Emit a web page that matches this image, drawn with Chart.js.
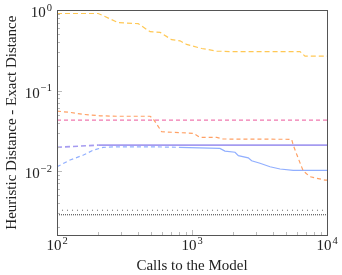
<!DOCTYPE html>
<html>
<head>
<meta charset="utf-8">
<script src="https://cdn.jsdelivr.net/npm/chart.js@4"></script>
<style>
  html, body { margin: 0; padding: 0; background: #fff; }
  #wrap { width: 342px; height: 275px; }
</style>
</head>
<body>
<div id="wrap"><canvas id="chart" width="342" height="275"></canvas></div>
<script>
const goldCalls = [100, 202, 284, 400, 489, 580, 707, 815, 912, 1180, 1524, 1910, 6310, 6870, 10000];
const goldDist = [0.91, 0.91, 0.70, 0.68, 0.54, 0.53, 0.43, 0.416, 0.375, 0.334, 0.31, 0.306, 0.306, 0.268, 0.268];

const pinkCalls = [100, 10000];
const pinkDist = [0.043, 0.043];

const orangeCalls = [100, 125, 157, 208, 277, 489, 517, 596, 1024, 1146, 1524, 1707, 5470, 5620, 6120, 6670, 7480, 9660, 10000];
const orangeDist = [0.0556, 0.0536, 0.0506, 0.0486, 0.048, 0.048, 0.0443, 0.0308, 0.0294, 0.0262, 0.0262, 0.025, 0.0248, 0.021, 0.0144, 0.010, 0.0085, 0.0077, 0.0077];

const purpleCalls = [100, 202, 10000];
const purpleDist = [0.0197, 0.021, 0.021];

const blueCalls = [100, 125, 157, 186, 220, 277, 500, 800, 1610, 1755, 2083, 2205, 2610, 2765, 3190, 3785, 4490, 5620, 10000];
const blueDist = [0.0113, 0.0137, 0.0158, 0.0182, 0.0197, 0.020, 0.020, 0.0197, 0.0191, 0.0177, 0.0171, 0.0155, 0.0146, 0.0134, 0.0125, 0.0113, 0.0106, 0.0102, 0.0102];

const dotCalls = [100, 10000];
const dotDist = [0.00325, 0.00325];
const fineCalls = [100, 10000];
const fineDist = [0.00286, 0.00286];

// tick values: 1..9 x 10^n, labels only on powers of ten
const xTicks = [];
for (let e = 2; e < 4; e++) for (let m = 1; m < 10; m++) xTicks.push(m * Math.pow(10, e));
xTicks.push(10000);
const yTicks = [];
for (let e = -3; e < 0; e++) for (let m = 1; m < 10; m++) if (m * Math.pow(10, e) >= 0.0016) yTicks.push(+(m * Math.pow(10, e)).toPrecision(3));
yTicks.push(1);

const FONT = 'Liberation Serif';

function expOf(v) {
    const e = Math.log10(v);
    if (Math.abs(e - Math.round(e)) > 1e-6) return null;
    return Math.round(e);
}

function pts(xs, ys) {
    return xs.map((x, i) => ({ x: x, y: ys[i] }));
}

// draws "10" with a raised exponent; align is 'right' or 'center'
function drawPow(ctx, e, x, y, align) {
    const base = '10';
    const sup = String(e).replace('-', '\u2212');
    ctx.font = '15px "' + FONT + '"';
    const wb = ctx.measureText(base).width;
    ctx.font = '10.5px "' + FONT + '"';
    const ws = ctx.measureText(sup).width;
    const w = wb + ws + 1;
    const left = align === 'right' ? x - w : x - w / 2;
    ctx.textAlign = 'left';
    ctx.textBaseline = 'alphabetic';
    ctx.font = '15px "' + FONT + '"';
    ctx.fillText(base, left, y + 6);
    ctx.font = '10.5px "' + FONT + '"';
    ctx.fillText(sup, left + wb + 1, y - 0.5);
}

const boxPlugin = {
    id: 'box',
    afterDraw(chart) {
        const ctx = chart.ctx;
        const a = chart.chartArea;
        const xs = chart.scales.x, ys = chart.scales.y;
        ctx.save();
        ctx.strokeStyle = '#bbb';
        ctx.lineWidth = 1;
        xTicks.forEach(v => {
            const p = Math.round(xs.getPixelForValue(v)) + 0.5;
            const len = expOf(v) !== null ? 5 : 3;
            ctx.beginPath();
            ctx.moveTo(p, a.bottom);
            ctx.lineTo(p, a.bottom - len);
            ctx.stroke();
        });
        yTicks.forEach(v => {
            const p = Math.round(ys.getPixelForValue(v)) + 0.5;
            const len = expOf(v) !== null ? 5 : 3;
            ctx.beginPath();
            ctx.moveTo(a.left, p);
            ctx.lineTo(a.left + len, p);
            ctx.stroke();
        });
        ctx.strokeStyle = '#555';
        ctx.strokeRect(Math.round(a.left) + 0.5, Math.round(a.top) + 0.5, Math.round(a.right - a.left), Math.round(a.bottom - a.top));

        ctx.fillStyle = '#222';
        xTicks.forEach(v => {
            const e = expOf(v);
            if (e === null) return;
            drawPow(ctx, e, xs.getPixelForValue(v), a.bottom + 9, 'center');
        });
        yTicks.forEach(v => {
            const e = expOf(v);
            if (e === null) return;
            drawPow(ctx, e, a.left - 5, ys.getPixelForValue(v) + 1, 'right');
        });
        ctx.restore();
    }
};

new Chart(document.getElementById('chart'), {
    type: 'line',
    data: {
        datasets: [
            { data: pts(goldCalls, goldDist), borderColor: 'rgb(255,200,85)', borderDash: [5, 3] },
            { data: pts(pinkCalls, pinkDist), borderColor: 'rgb(240,120,175)', borderDash: [4, 3] },
            { data: pts(orangeCalls, orangeDist), borderColor: 'rgb(255,160,100)', borderDash: [4, 3] },
            { data: pts(purpleCalls, purpleDist), borderColor: 'rgb(165,155,240)', borderWidth: 1.6,
              segment: { borderDash: c => c.p1.parsed.x <= 202 ? [5, 3] : undefined } },
            { data: pts(blueCalls, blueDist), borderColor: 'rgb(145,175,255)',
              segment: { borderDash: c => c.p1.parsed.x <= 800 ? [4, 3] : undefined } },
            { data: pts(dotCalls, dotDist), borderColor: 'rgb(110,110,110)', borderDash: [1, 4] },
            { data: pts(fineCalls, fineDist), borderColor: 'rgb(90,90,90)', borderDash: [1, 1] }
        ]
    },
    options: {
        responsive: false,
        animation: false,
        layout: { padding: { top: 10, right: 15, left: 0, bottom: 0 } },
        elements: { point: { radius: 0 }, line: { borderWidth: 1.2, tension: 0 } },
        plugins: { legend: { display: false }, tooltip: { enabled: false } },
        scales: {
            x: {
                type: 'logarithmic',
                min: 100,
                max: 10000,
                afterBuildTicks: s => { s.ticks = xTicks.map(v => ({ value: v })); },
                afterFit: s => { s.height = 40; },
                grid: { display: false },
                border: { display: false },
                ticks: { autoSkip: false, maxRotation: 0, callback: () => '' },
                title: {
                    display: true,
                    text: 'Calls to the Model',
                    color: '#222',
                    padding: { top: 0, bottom: 0 },
                    font: { family: FONT, size: 15 }
                }
            },
            y: {
                type: 'logarithmic',
                min: 0.0016,
                max: 1,
                afterBuildTicks: s => { s.ticks = yTicks.map(v => ({ value: v })); },
                afterFit: s => { s.width = 57; },
                grid: { display: false },
                border: { display: false },
                ticks: { autoSkip: false, callback: () => '' },
                title: {
                    display: true,
                    text: 'Heuristic Distance - Exact Distance',
                    color: '#222',
                    padding: { top: 3, bottom: 0 },
                    font: { family: FONT, size: 15 }
                }
            }
        }
    },
    plugins: [boxPlugin]
});
</script>
</body>
</html>
